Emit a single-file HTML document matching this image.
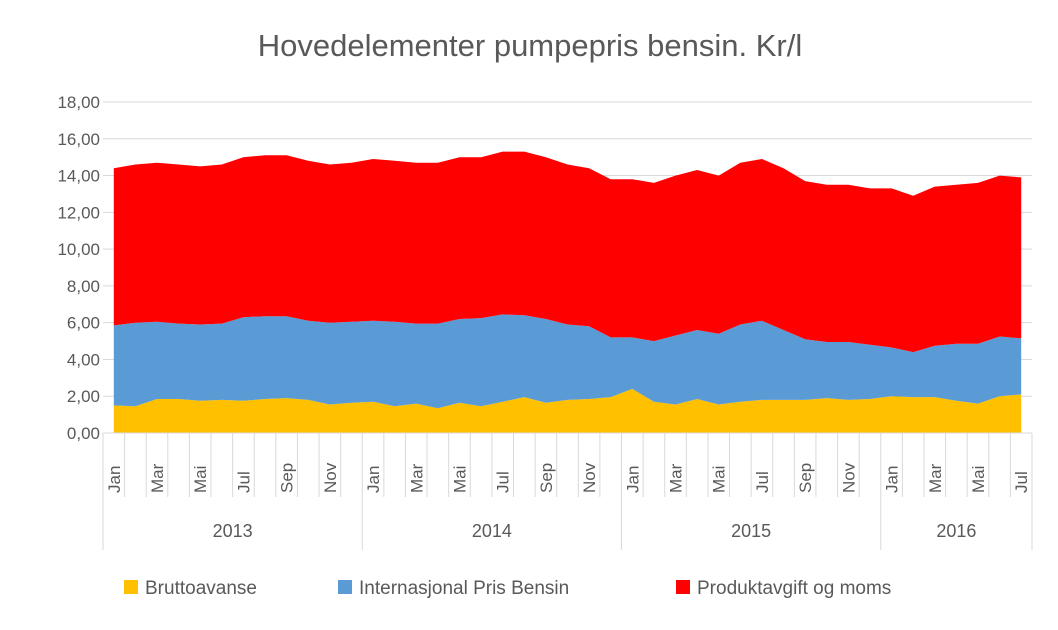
<!DOCTYPE html>
<html><head><meta charset="utf-8"><style>
body{margin:0;background:#fff;}
svg text{font-family:"Liberation Sans",sans-serif;}
</style></head><body>
<svg id="chart" width="1058" height="625" xmlns="http://www.w3.org/2000/svg">
<rect width="1058" height="625" fill="#fff"/>
<text x="530" y="56" text-anchor="middle" font-size="31" fill="#595959">Hovedelementer  pumpepris bensin. Kr/l</text>
<g id="grid"></g><g id="areas"></g><g id="xaxis"></g><g id="yaxis"></g>
<g>
<rect x="124" y="580" width="14" height="14" fill="#FFC000"/>
<text x="145" y="594" font-size="19" fill="#595959">Bruttoavanse</text>
<rect x="338" y="580" width="14" height="14" fill="#5B9BD5"/>
<text x="359" y="594" font-size="19" fill="#595959">Internasjonal Pris  Bensin</text>
<rect x="676" y="580" width="14" height="14" fill="#FF0000"/>
<text x="697" y="594" font-size="19" fill="#595959">Produktavgift og moms</text>
</g>
</svg>
<script>
const months=["Jan","Feb","Mar","Apr","Mai","Jun","Jul","Aug","Sep","Okt","Nov","Des"];
const years=["2013","2014","2015","2016"];
const yTicks=[0,2,4,6,8,10,12,14,16,18];
const bruttoavanse=[1.5,1.45,1.85,1.85,1.75,1.8,1.75,1.85,1.9,1.8,1.55,1.65,1.7,1.45,1.6,1.35,1.65,1.45,1.7,1.95,1.65,1.8,1.85,1.95,2.4,1.7,1.55,1.85,1.55,1.7,1.8,1.8,1.8,1.9,1.8,1.85,2.0,1.95,1.95,1.75,1.6,2.0,2.1];
const internasjonal=[4.35,4.55,4.2,4.1,4.15,4.15,4.55,4.5,4.45,4.3,4.45,4.4,4.4,4.6,4.35,4.6,4.55,4.8,4.75,4.45,4.55,4.1,3.95,3.25,2.8,3.3,3.75,3.75,3.85,4.2,4.3,3.8,3.3,3.05,3.15,2.95,2.65,2.45,2.8,3.1,3.25,3.25,3.05];
const produktavgift=[8.55,8.6,8.65,8.65,8.6,8.65,8.7,8.75,8.75,8.7,8.6,8.65,8.8,8.75,8.75,8.75,8.8,8.75,8.85,8.9,8.8,8.7,8.6,8.6,8.6,8.6,8.7,8.7,8.6,8.8,8.8,8.8,8.6,8.55,8.55,8.5,8.65,8.5,8.65,8.65,8.75,8.75,8.75];

const NS="http://www.w3.org/2000/svg";
const X0=103,X1=1032,Y0=433,Y18=102,N=bruttoavanse.length;
const cw=(X1-X0)/N;
function xs(i){return X0+cw*(i+0.5);}
function ys(v){return Y0-(Y0-Y18)*v/18;}
function mk(tag,attrs,parent){const e=document.createElementNS(NS,tag);for(const k in attrs)e.setAttribute(k,attrs[k]);parent.appendChild(e);return e;}
const grid=document.getElementById('grid'),areas=document.getElementById('areas'),xa=document.getElementById('xaxis'),ya=document.getElementById('yaxis');
yTicks.forEach(t=>{
  if(t>0){const l=mk('line',{x1:X0,x2:X1,y1:ys(t),y2:ys(t),stroke:'#d9d9d9','stroke-width':1},grid);
  
  }
  const tx=mk('text',{x:100,y:ys(t)+6,'text-anchor':'end','font-size':17,fill:'#595959'},ya);
  tx.textContent=t.toFixed(2).replace('.',',');
  
  
});
const series=[[bruttoavanse,'#FFC000','area-bruttoavanse'],[internasjonal,'#5B9BD5','area-internasjonal-pris'],[produktavgift,'#FF0000','area-produktavgift-og-moms']];
let base=new Array(N).fill(0);
series.forEach(([vals,col,name])=>{
  const top=base.map((b,i)=>b+vals[i]);
  let d='';
  for(let i=0;i<N;i++)d+=(i?'L':'M')+xs(i).toFixed(1)+','+ys(top[i]).toFixed(1);
  for(let i=N-1;i>=0;i--)d+='L'+xs(i).toFixed(1)+','+ys(base[i]).toFixed(1);
  const p=mk('path',{d:d+'Z',fill:col},areas);
  
  
  base=top;
});
mk('line',{x1:X0,x2:X1,y1:Y0,y2:Y0,stroke:'#d9d9d9'},xa);
for(let i=0;i<=N;i++){
  const isYear=(i%12===0)||i===N;
  const l=mk('line',{x1:X0+cw*i,x2:X0+cw*i,y1:Y0,y2:isYear?550:497,stroke:'#d9d9d9'},xa);
  
  
}
for(let i=0;i<N;i++){
  if(i%2!==0)continue;
  const x=xs(i)+6,y=493;
  const t=mk('text',{x:x,y:y,transform:`rotate(-90 ${x} ${y})`,'font-size':17,fill:'#595959'},xa);
  t.textContent=months[i%12];
  
  
}
years.forEach((yr,k)=>{
  const s=k*12,e=Math.min(N,s+12);
  const t=mk('text',{x:X0+cw*(s+e)/2,y:537,'text-anchor':'middle','font-size':18,fill:'#595959'},xa);
  t.textContent=yr;
  
  
});
</script>
</body></html>
